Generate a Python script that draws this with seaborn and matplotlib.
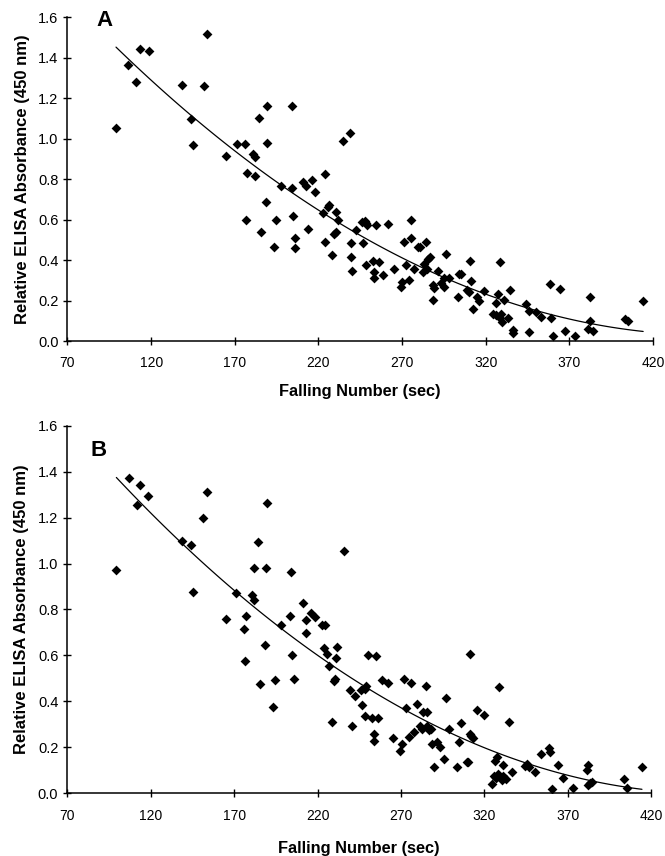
import numpy as np
import pandas as pd
import matplotlib
matplotlib.use("Agg")
import matplotlib.pyplot as plt
import seaborn as sns

# Panel A: falling number (sec) vs relative ELISA absorbance
fn_a = [99.0, 106.4, 111.2, 113.4, 118.6, 138.5, 144.1, 144.9, 151.5, 153.5,
        165.0, 171.2, 176.2, 177.2, 181.0, 182.2, 182.2, 184.2, 189.2, 189.2,
        197.7, 203.9, 204.1, 210.9, 212.7, 215.9, 217.9, 224.1, 234.8, 239.0,
        176.8, 185.8, 188.9, 193.7, 194.7, 204.9, 205.7, 205.7, 213.5, 222.5,
        223.7, 225.7, 226.6, 230.6, 231.7, 228.4, 229.3, 230.2, 239.2, 239.4,
        240.2, 242.2, 246.0, 248.0, 248.6, 249.2, 254.4, 246.4, 248.4, 252.4,
        256.0, 253.2, 253.2, 258.4, 261.6, 265.2, 269.1, 270.1, 271.3, 272.3,
        274.3, 275.5, 275.5, 277.3, 279.3, 280.9, 284.5, 282.3, 283.3, 284.9,
        285.5, 286.5, 291.3, 288.3, 289.3, 288.3, 293.5, 295.1, 295.1, 298.3,
        296.5, 303.2, 304.2, 305.3, 309.0, 310.0, 310.4, 311.4, 312.2, 315.0,
        316.0, 319.2, 324.4, 326.2, 326.2, 327.4, 328.6, 329.4, 328.4, 330.0,
        331.2, 333.4, 334.6, 336.0, 336.1, 344.3, 346.1, 346.1, 350.1, 353.3,
        358.5, 359.3, 360.3, 364.3, 367.3, 373.2, 382.2, 382.2, 381.2, 384.4,
        403.0, 405.0, 414.1]
abs_a = [1.05, 1.363, 1.279, 1.443, 1.432, 1.264, 1.098, 0.966, 1.258, 1.516,
         0.915, 0.974, 0.974, 0.828, 0.925, 0.910, 0.816, 1.101, 1.160, 0.978,
         0.764, 0.757, 1.160, 0.787, 0.767, 0.797, 0.737, 0.825, 0.989, 1.026,
         0.598, 0.540, 0.686, 0.466, 0.598, 0.619, 0.509, 0.461, 0.552, 0.631,
         0.489, 0.663, 0.673, 0.636, 0.596, 0.423, 0.530, 0.540, 0.482, 0.415,
         0.347, 0.548, 0.586, 0.593, 0.581, 0.573, 0.573, 0.482, 0.375, 0.393,
         0.392, 0.342, 0.313, 0.326, 0.579, 0.356, 0.267, 0.291, 0.490, 0.374,
         0.303, 0.596, 0.510, 0.356, 0.463, 0.466, 0.487, 0.341, 0.380, 0.354,
         0.405, 0.416, 0.344, 0.275, 0.260, 0.201, 0.285, 0.265, 0.310, 0.313,
         0.431, 0.217, 0.329, 0.332, 0.252, 0.244, 0.393, 0.298, 0.160, 0.216,
         0.199, 0.248, 0.132, 0.128, 0.188, 0.232, 0.390, 0.133, 0.112, 0.095,
         0.202, 0.115, 0.250, 0.056, 0.041, 0.181, 0.148, 0.043, 0.142, 0.120,
         0.280, 0.114, 0.025, 0.255, 0.049, 0.023, 0.217, 0.097, 0.061, 0.051,
         0.109, 0.099, 0.196]

# Panel B
fn_b = [99.4, 106.8, 113.8, 111.6, 118.6, 138.6, 144.4, 145.2, 151.4, 153.6,
        165.0, 171.0, 177.0, 180.9, 182.1, 182.1, 184.3, 189.3, 189.5, 204.1,
        203.7, 211.1, 215.9, 218.3, 213.1, 235.7, 175.8, 176.7, 185.5, 188.7,
        194.5, 193.5, 197.9, 204.7, 205.7, 213.1, 222.9, 224.3, 223.9, 225.9,
        227.1, 228.5, 229.9, 230.7, 230.9, 231.9, 239.7, 240.7, 242.7, 245.9,
        246.9, 248.5, 249.1, 248.7, 250.1, 252.9, 256.5, 253.7, 253.7, 255.1,
        258.7, 262.1, 265.4, 269.6, 270.7, 272.0, 273.1, 274.7, 276.1, 277.9,
        279.8, 281.5, 282.5, 283.4, 285.8, 285.0, 285.8, 287.0, 288.0, 288.6,
        289.6, 291.8, 293.4, 295.7, 297.0, 298.8, 303.4, 304.7, 305.9, 309.4,
        310.4, 311.2, 311.4, 312.2, 313.0, 315.6, 319.8, 326.6, 327.4, 328.8,
        324.4, 325.9, 327.1, 328.4, 329.4, 330.4, 331.4, 333.2, 331.4, 334.9,
        336.6, 344.6, 345.8, 346.8, 350.4, 353.6, 358.4, 359.4, 360.2, 364.2,
        367.3, 373.3, 381.2, 382.2, 382.2, 383.4, 384.4, 403.6, 405.4, 414.4]
abs_b = [0.973, 1.371, 1.343, 1.253, 1.294, 1.099, 1.079, 0.875, 1.199, 1.311,
         0.758, 0.872, 0.772, 0.864, 0.840, 0.980, 1.092, 0.982, 1.265, 0.962,
         0.772, 0.827, 0.786, 0.767, 0.754, 1.053, 0.714, 0.574, 0.477, 0.647,
         0.492, 0.374, 0.734, 0.602, 0.497, 0.696, 0.732, 0.732, 0.634, 0.606,
         0.554, 0.309, 0.489, 0.496, 0.590, 0.638, 0.448, 0.294, 0.422, 0.448,
         0.386, 0.453, 0.466, 0.336, 0.602, 0.328, 0.328, 0.258, 0.229, 0.597,
         0.494, 0.481, 0.242, 0.184, 0.213, 0.496, 0.370, 0.244, 0.481, 0.267,
         0.387, 0.293, 0.278, 0.355, 0.352, 0.467, 0.293, 0.275, 0.281, 0.213,
         0.113, 0.222, 0.201, 0.151, 0.415, 0.278, 0.114, 0.225, 0.305, 0.138,
         0.138, 0.605, 0.258, 0.249, 0.242, 0.361, 0.341, 0.141, 0.159, 0.464,
         0.039, 0.075, 0.065, 0.083, 0.070, 0.058, 0.077, 0.061, 0.122, 0.310,
         0.093, 0.120, 0.126, 0.116, 0.094, 0.170, 0.196, 0.178, 0.019, 0.123,
         0.068, 0.022, 0.101, 0.125, 0.036, 0.046, 0.050, 0.064, 0.022, 0.113]

x_ticks = [70, 120, 170, 220, 270, 320, 370, 420]
y_ticks = [0.0, 0.2, 0.4, 0.6, 0.8, 1.0, 1.2, 1.4, 1.6]

sns.set_style("ticks", {"text.color": "black", "axes.labelcolor": "black",
                        "xtick.color": "black", "ytick.color": "black",
                        "axes.edgecolor": "black"})
plt.rcParams["font.family"] = ["Liberation Sans", "DejaVu Sans"]

fig = plt.figure(figsize=(6.65, 8.56), dpi=100)
ax_a = fig.add_axes([0.1015, 0.6016, 0.8805, 0.3785])
ax_b = fig.add_axes([0.1012, 0.0733, 0.8782, 0.4294])

# axis, x, y, panel letter, letter position (data coords), xlabel pad
panels = [(ax_a, fn_a, abs_a, "A", (92.1, 1.585), 10),
          (ax_b, fn_b, abs_b, "B", (89.0, 1.49), 13.5)]

for ax, fx, fy, letter, lpos, xpad in panels:
    df = pd.DataFrame({"fn": fx, "elisa": fy})
    sns.scatterplot(data=df, x="fn", y="elisa", ax=ax, marker="D", s=25,
                    color="black", edgecolor="black", linewidth=0)
    sns.regplot(data=df, x="fn", y="elisa", ax=ax, order=2, ci=None,
                scatter=False, truncate=True,
                line_kws={"color": "black", "linewidth": 0.9})
    ax.set_xlim(70, 420)
    ax.set_ylim(0, 1.6)
    ax.set_xticks(x_ticks)
    ax.set_yticks(y_ticks)
    ax.set_yticklabels([f"{v:.1f}" for v in y_ticks])
    ax.tick_params(direction="inout", length=6, width=1, color="black",
                   labelcolor="black")
    ax.tick_params(axis="x", labelsize=10, pad=8)
    ax.tick_params(axis="y", labelsize=10.5, pad=3.5)
    sns.despine(ax=ax)
    for s in ["left", "bottom"]:
        ax.spines[s].set_color("black")
        ax.spines[s].set_linewidth(1.1)
    ax.set_xlabel("Falling Number (sec)", fontsize=11.8, fontweight="bold",
                  labelpad=xpad)
    ax.set_ylabel("Relative ELISA Absorbance (450 nm)", fontsize=12,
                  fontweight="bold", labelpad=6)
    ax.text(lpos[0], lpos[1], letter, fontsize=16, fontweight="bold",
            ha="center", va="center")

fig.savefig("out.png", dpi=100)
